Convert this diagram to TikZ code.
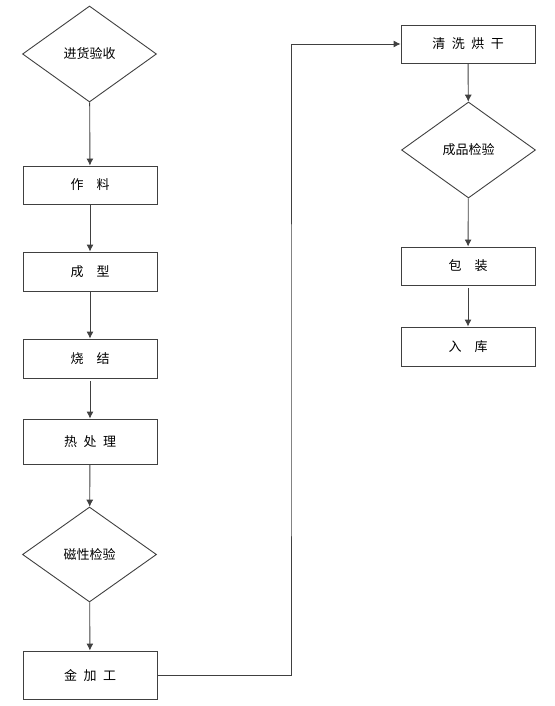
\documentclass[tikz,border=0pt]{standalone}
\usepackage{fontspec}
\setmainfont{Noto Sans CJK SC}
\usepackage{xcolor}
\usepackage{tikz}
\usetikzlibrary{arrows.meta, calc, shapes.geometric}
\definecolor{LineGray}{gray}{0.25}
\tikzset{
	stepbox/.style={draw=LineGray, line width=0.9pt, minimum width=134pt, minimum height=38pt, inner sep=0pt, font=\fontsize{13}{15}\selectfont},
	checkdia/.style={diamond, aspect=1.4, draw=LineGray, line width=0.9pt, minimum width=134pt, minimum height=96pt, inner sep=0pt, font=\fontsize{13}{15}\selectfont},
	flow/.style={draw=LineGray, line width=0.9pt, -{Latex[length=7pt, width=7pt]}}
}

\begin{document}
\begin{tikzpicture}[x=1pt, y=-1pt]

	\useasboundingbox (0,0) rectangle (554,706);

	% left column
	\node[checkdia] (JH) at (89.5,54) {进货验收};
	\node[stepbox] (ZL) at (90,185) {作\quad 料};
	\node[stepbox, minimum height=39pt] (CX) at (90,271.5) {成\quad 型};
	\node[stepbox, minimum height=39pt] (SJ) at (90,358.5) {烧\quad 结};
	\node[stepbox, minimum height=45pt] (RC) at (90,441.5) {热\enspace 处\enspace 理};
	\node[checkdia, minimum height=95pt] (CJ) at (89.5,554.5) {磁性检验};
	\node[stepbox, minimum height=48pt] (JG) at (90,675) {金\enspace 加\enspace 工};

	% right column
	\node[stepbox] (QX) at (468,44) {清\enspace 洗\enspace 烘\enspace 干};
	\node[checkdia] (CP) at (468.5,150) {成品检验};
	\node[stepbox] (BZ) at (468,266) {包\quad 装};
	\node[stepbox, minimum height=39pt] (RK) at (468,346.5) {入\quad 库};

	\coordinate (turn) at (291,400);

	\draw[flow] (JH) -- (ZL);
	\draw[flow] (ZL) -- (CX);
	\draw[flow] (CX) -- (SJ);
	\draw[flow, shorten <=3pt] (SJ) -- (RC);
	\draw[flow] (RC) -- (CJ);
	\draw[flow] (CJ) -- (JG);
	\draw[flow] (JG.east) -| (turn) |- (QX.west);
	\draw[flow] (QX) -- (CP);
	\draw[flow] (CP) -- (BZ);
	\draw[flow, shorten <=3pt] (BZ) -- (RK);

\end{tikzpicture}
\end{document}
